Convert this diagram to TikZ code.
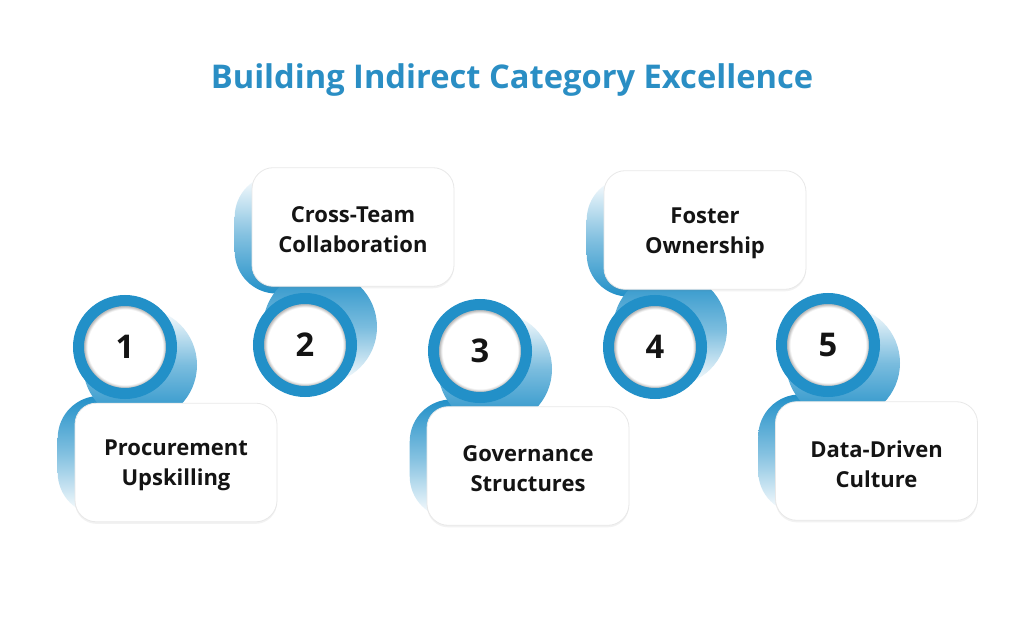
\documentclass[tikz,border=0pt]{standalone}
\usepackage{fontspec}
\setmainfont{Open Sans}
\usetikzlibrary{shadows}
\definecolor{ringblue}{HTML}{2290C8}
\definecolor{titleblue}{HTML}{2A8EC4}
\definecolor{inktext}{HTML}{141414}
\pgfdeclareradialshading{innershadow}{\pgfpointorigin}{color(0bp)=(white); color(20.3bp)=(white); color(22bp)=(black!28); color(50bp)=(black!28)}
\newcommand\swirldown[2]{%
  \shade[top color=ringblue, bottom color=white, middle color=ringblue!55, rounded corners=31.5pt]
    ([shift={(-17,-7)}]#2.north west) rectangle ([shift={(105,112)}]#2.north west);
  \shade[top color=white, bottom color=ringblue, middle color=ringblue!60]
    ([shift={(15,18)}]#1.center) circle (42.75pt);
}
\newcommand\swirlup[2]{%
  \shade[bottom color=ringblue, top color=white, middle color=ringblue!55, rounded corners=31.5pt]
    ([shift={(-17,7)}]#2.south west) rectangle ([shift={(105,-112)}]#2.south west);
  \shade[bottom color=white, top color=ringblue, middle color=ringblue!60]
    ([shift={(15,-18)}]#1.center) circle (42.75pt);
}
\begin{document}
\begin{tikzpicture}[x=0.75pt,y=-0.75pt,
  card/.style={draw=black!9, line width=0.6pt, fill=white, rounded corners=16pt,
    minimum width=151.5pt, minimum height=89pt,
    drop shadow={opacity=0.10, shadow xshift=0pt, shadow yshift=-1.5pt}},
  cardtext/.style={align=center, text=inktext, inner sep=0pt,
    font=\fontsize{16.5}{22.5}\selectfont\bfseries},
  ring/.style={circle, draw=ringblue, line width=8.25pt, shading=innershadow,
    minimum size=69.75pt, inner sep=0pt, text=inktext,
    font=\fontsize{24.5}{24.5}\selectfont\bfseries},
  slot/.style={minimum width=151.5pt, minimum height=89pt, inner sep=0pt}
]
\fill[white] (0,0) rectangle (1024,627);
\useasboundingbox (0,0) rectangle (1024,627);

\node[font=\fontsize{24.5}{29}\selectfont\bfseries, text=titleblue] (title) at (512,80) {Building Indirect Category Excellence};

% positions
\coordinate (p1) at (125,347);
\coordinate (p2) at (305,345);
\coordinate (p3) at (480,351);
\coordinate (p4) at (655,347);
\coordinate (p5) at (828,345);

\node[slot] (g1) at (176,462.5) {};
\node[slot] (g2) at (353,227) {};
\node[slot] (g3) at (528,466) {};
\node[slot] (g4) at (705,230) {};
\node[slot] (g5) at (876.5,461) {};

% swirls (behind)
\swirldown{p1}{g1}
\swirlup{p2}{g2}
\swirldown{p3}{g3}
\swirlup{p4}{g4}
\swirldown{p5}{g5}

% cards
\node[card] (b1) at (g1) {};
\node[card] (b2) at (g2) {};
\node[card] (b3) at (g3) {};
\node[card] (b4) at (g4) {};
\node[card] (b5) at (g5) {};
\node[cardtext] (t1) at ([shift={(0,3)}]b1.center) {Procurement\\Upskilling};
\node[cardtext] (t2) at ([shift={(0,3)}]b2.center) {Cross-Team\\Collaboration};
\node[cardtext] (t3) at ([shift={(0,3)}]b3.center) {Governance\\Structures};
\node[cardtext] (t4) at ([shift={(0,3)}]b4.center) {Foster\\Ownership};
\node[cardtext] (t5) at ([shift={(0,3)}]b5.center) {Data-Driven\\Culture};

% rings
\node[ring] (c1) at (p1) {1};
\node[ring] (c2) at (p2) {2};
\node[ring] (c3) at (p3) {3};
\node[ring] (c4) at (p4) {4};
\node[ring] (c5) at (p5) {5};
\end{tikzpicture}
\end{document}
